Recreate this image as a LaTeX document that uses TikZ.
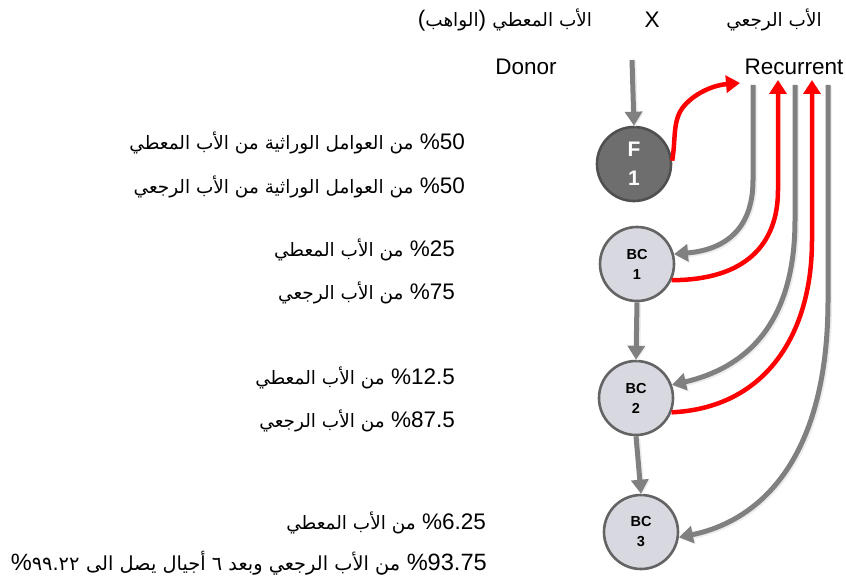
\documentclass[tikz,border=0pt]{standalone}
\usepackage{fontspec}
\setmainfont{Liberation Sans}
\newfontfamily\arabicfont[Script=Arabic, Scale=0.82]{DejaVu Sans}
\TeXXeTstate=1
\usetikzlibrary{arrows.meta}
\newcommand\artxt[1]{{\arabicfont\beginR #1\endR}}
\definecolor{flowgray}{RGB}{128,128,128}
\definecolor{rimgray}{RGB}{100,100,100}
\definecolor{bcfill}{RGB}{216,217,224}
\definecolor{ffill}{RGB}{110,110,110}
\tikzset{
  lbl/.style={inner sep=0pt, font=\fontsize{22.5}{26}\selectfont},
  gen/.style={circle, minimum size=74pt, inner sep=0pt, line width=2.6pt, draw=rimgray,
    align=center, font=\bfseries\fontsize{14.5}{20}\selectfont},
  soft/.style={preaction={draw=black!7, line width=6pt, transform canvas={shift={(1.2pt,-1.2pt)}}}},
  garrow/.style={soft, draw=flowgray, line width=5pt, -{Triangle[width=17pt,length=14pt]}},
  rarrow/.style={draw=red, line width=4.5pt, -{Triangle[width=17pt,length=14pt]}},
}
\begin{document}
\begin{tikzpicture}[x=1pt,y=-1pt]
\useasboundingbox (0,0) rectangle (846,583);

% header
\node[lbl] (donorar) at (505,20) {(\artxt{الواهب}) \artxt{الأب المعطي}};
\node[lbl] (cross) at (652,20) {X};
\node[lbl] (recar) at (774,20) {\artxt{الأب الرجعي}};
\node[lbl] (donor) at (526,67) {Donor};
\node[lbl] (recurrent) at (794,67) {Recurrent};

% generations
\node[gen, fill=ffill, draw=rimgray!80!black, text=white, font=\bfseries\fontsize{21}{29}\selectfont] (f1) at (634,164) {F\\1};
\node[gen, fill=bcfill] (bc1) at (637,264) {BC\\1};
\node[gen, fill=bcfill] (bc2) at (636,398) {BC\\2};
\node[gen, fill=bcfill] (bc3) at (641,532) {BC\\3};

% ends of the connectors under the headings
\coordinate (dtop) at (632,60);
\coordinate (rin) at (740,83);
\coordinate (ra) at (753,85);
\coordinate (rb) at (778,80);
\coordinate (rc) at (795,85);
\coordinate (rd) at (812,80);
\coordinate (re) at (828,85);

% donor line
\draw[garrow] (dtop) -- (f1.north);
\draw[garrow] (bc1.south) -- (bc2.north);
\draw[garrow] (bc2.south) -- (bc3.north);

% F1 back to the recurrent parent
\draw[rarrow] (f1.5) .. controls (676,140) and (672,120) .. (684,106) .. controls (696,92) and (715,85) .. (rin);

% recurrent parent into each backcross
\draw[garrow] (ra) -- (753,180) .. controls (753,232) and (722,250) .. (bc1.15);
\draw[rarrow] (bc1.-25) .. controls (745,280) and (778,245) .. (778,190) -- (rb);
\draw[garrow] (rc) -- (795,220) .. controls (795,325) and (745,368) .. (bc2.20);
\draw[rarrow] (bc2.-22) .. controls (765,408) and (812,335) .. (812,240) -- (rd);
\draw[garrow] (re) -- (828,300) .. controls (828,465) and (755,522) .. (bc3.-8);

% shares of the parents in each generation
\node[lbl, anchor=east] (s1) at (465,143) {\artxt{من العوامل الوراثية من الأب المعطي} \%50};
\node[lbl, anchor=east] (s2) at (465,187) {\artxt{من العوامل الوراثية من الأب الرجعي} \%50};
\node[lbl, anchor=east] (s3) at (455,250) {\artxt{من الأب المعطي} \%25};
\node[lbl, anchor=east] (s4) at (455,293) {\artxt{من الأب الرجعي} \%75};
\node[lbl, anchor=east] (s5) at (455,378) {\artxt{من الأب المعطي} \%12.5};
\node[lbl, anchor=east] (s6) at (455,421) {\artxt{من الأب الرجعي} \%87.5};
\node[lbl, anchor=east] (s7) at (486,523) {\artxt{من الأب المعطي} \%6.25};
\node[lbl, anchor=east, font=\fontsize{23.6}{27}\selectfont] (s8) at (487,563) {\%{\arabicfont ٩٩.٢٢} \artxt{من الأب الرجعي وبعد ٦ أجيال يصل الى} \%93.75};
\end{tikzpicture}
\end{document}
